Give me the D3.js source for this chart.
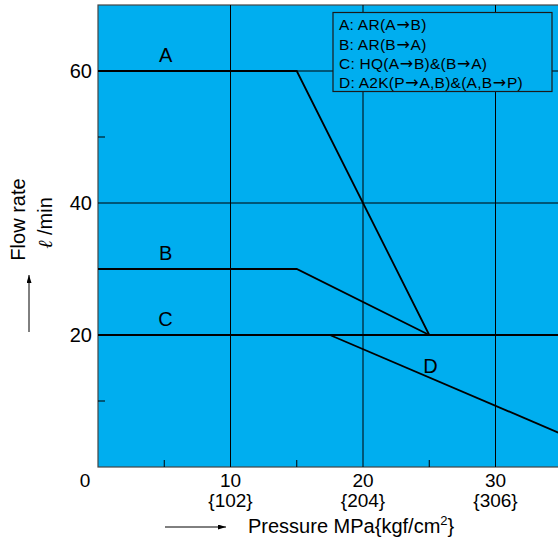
<!DOCTYPE html>
<html><head><meta charset="utf-8">
<script src="https://cdn.jsdelivr.net/npm/d3@7"></script>
<style>
html,body{margin:0;padding:0;background:#fff;}
svg{display:block;font-family:"Liberation Sans",Arial,Helvetica,sans-serif;}
</style></head>
<body>
<svg id="chart" width="558" height="543"></svg>
<script>
// ---- data ----
const categories = ["A", "B", "C", "D"];
const seriesA = [[0, 60], [15, 60], [25, 20]];
const seriesB = [[0, 30], [15, 30], [25, 20]];
const seriesC = [[0, 20], [35, 20]];
const seriesD = [[17.5, 20], [35, 5]];
const labelAnchors = [[5.1, 61.4], [5.1, 31.4], [5.1, 21.3], [25.1, 14.3]];
const xTicks = [10, 20, 30];
const xTickSub = ["{102}", "{204}", "{306}"];
const xMinor = [5, 15, 25];
const yTicks = [20, 40, 60];
const yMinor = [10, 30, 50];
// legend lines split into text / arrow parts
const legendItems = [
  ["A: AR(A", "\u2192", "B)"],
  ["B: AR(B", "\u2192", "A)"],
  ["C: HQ(A", "\u2192", "B)&(B", "\u2192", "A)"],
  ["D: A2K(P", "\u2192", "A,B)&(A,B", "\u2192", "P)"]
];

// ---- layout ----
const svg = d3.select("#chart");
const x = d3.scaleLinear().domain([0, 35]).range([98, 561.75]);
const y = d3.scaleLinear().domain([0, 70]).range([467, 5]);
const blue = "#00AEEF";
const FS = 20;

// plot background
svg.append("rect").attr("x", x(0)).attr("y", y(70))
  .attr("width", x(35) - x(0)).attr("height", y(0) - y(70))
  .attr("fill", blue).attr("stroke", "#444").attr("stroke-width", 1.2);

// grid lines
const g = svg.append("g");
g.selectAll(".vg").data(xTicks).join("line")
  .attr("x1", d => x(d)).attr("x2", d => x(d))
  .attr("y1", y(0)).attr("y2", y(70))
  .attr("stroke", "#000").attr("stroke-width", 1);
g.selectAll(".hg").data(yTicks).join("line")
  .attr("x1", x(0)).attr("x2", x(35))
  .attr("y1", d => y(d)).attr("y2", d => y(d))
  .attr("stroke", "#000").attr("stroke-width", 1);
// minor ticks
g.selectAll(".xm").data(xMinor).join("line")
  .attr("x1", d => x(d)).attr("x2", d => x(d))
  .attr("y1", y(0)).attr("y2", y(0) - 7)
  .attr("stroke", "#000").attr("stroke-width", 1);
g.selectAll(".ym").data(yMinor).join("line")
  .attr("x1", x(0)).attr("x2", x(0) + 7)
  .attr("y1", d => y(d)).attr("y2", d => y(d))
  .attr("stroke", "#000").attr("stroke-width", 1);

// legend box
const lg = svg.append("g");
lg.append("rect").attr("x", 333).attr("y", 12.5).attr("width", 219).attr("height", 79)
  .attr("fill", blue).attr("stroke", "#1a1a1a").attr("stroke-width", 1.2);
lg.selectAll("text").data(legendItems).join("text")
  .attr("x", 339).attr("y", (d, i) => 30.3 + i * 19.3)
  .attr("font-size", 15.5).attr("letter-spacing", 0.25).attr("fill", "#000")
  .each(function(parts) {
    const t = d3.select(this);
    let afterArrow = false;
    parts.forEach(p => {
      if (p === "\u2192") {
        t.append("tspan").attr("font-family", "'DejaVu Sans',sans-serif")
          .attr("font-size", 16).attr("dx", 0.5).text(p);
        afterArrow = true;
      } else {
        const ts = t.append("tspan").text(p);
        if (afterArrow) ts.attr("dx", 0.5);
        afterArrow = false;
      }
    });
  });

// data lines
const line = d3.line().x(d => x(d[0])).y(d => y(d[1]));
[seriesA, seriesB, seriesC, seriesD].forEach(s => {
  svg.append("path").attr("d", line(s)).attr("fill", "none")
    .attr("stroke", "#000").attr("stroke-width", 1.8).attr("stroke-linejoin", "miter");
});

// series labels
svg.selectAll(".lab").data(categories).join("text")
  .attr("x", (d, i) => x(labelAnchors[i][0])).attr("y", (d, i) => y(labelAnchors[i][1]))
  .attr("text-anchor", "middle").attr("font-size", FS).attr("fill", "#000").text(d => d);

// y tick labels
svg.selectAll(".yl").data(yTicks).join("text")
  .attr("x", 92).attr("y", d => y(d) + 7)
  .attr("text-anchor", "end").attr("font-size", FS).text(d => d);
// origin label
svg.append("text").attr("x", 85).attr("y", 486.5).attr("text-anchor", "middle")
  .attr("font-size", 19).text("0");
// x tick labels
svg.selectAll(".xl").data(xTicks).join("text")
  .attr("x", d => x(d)).attr("y", 486.5).attr("text-anchor", "middle")
  .attr("font-size", 19).text(d => d);
svg.selectAll(".xs").data(xTickSub).join("text")
  .attr("x", (d, i) => x(xTicks[i])).attr("y", 506.5).attr("text-anchor", "middle")
  .attr("font-size", 19).text(d => d);

// arrow marker
const defs = svg.append("defs");
defs.append("marker").attr("id", "ah").attr("viewBox", "0 0 8 5")
  .attr("refX", 8).attr("refY", 2.5).attr("markerWidth", 8).attr("markerHeight", 5)
  .attr("markerUnits", "userSpaceOnUse").attr("orient", "auto")
  .append("path").attr("d", "M0,0L8,2.5L0,5Z").attr("fill", "#000");

// x axis title with arrow
svg.append("line").attr("x1", 165).attr("x2", 226).attr("y1", 527).attr("y2", 527)
  .attr("stroke", "#000").attr("stroke-width", 1).attr("marker-end", "url(#ah)");
const xt = svg.append("text").attr("x", 248).attr("y", 533).attr("font-size", FS);
xt.append("tspan").text("Pressure MPa{kgf/cm");
xt.append("tspan").attr("dy", -8).attr("font-size", 13).text("2");
xt.append("tspan").attr("dy", 8).text("}");

// y axis title with arrow
svg.append("text").attr("transform", "translate(25,219.5) rotate(-90)")
  .attr("text-anchor", "middle").attr("font-size", FS).text("Flow rate");
const yt = svg.append("text").attr("transform", "translate(52,223) rotate(-90)")
  .attr("text-anchor", "middle").attr("font-size", FS);
yt.append("tspan").attr("font-style", "italic").attr("font-family", "'DejaVu Serif',serif").text("\u2113");
yt.append("tspan").text(" /min");
svg.append("line").attr("x1", 29).attr("x2", 29).attr("y1", 332).attr("y2", 275)
  .attr("stroke", "#000").attr("stroke-width", 1).attr("marker-end", "url(#ah)");
</script>
</body></html>
